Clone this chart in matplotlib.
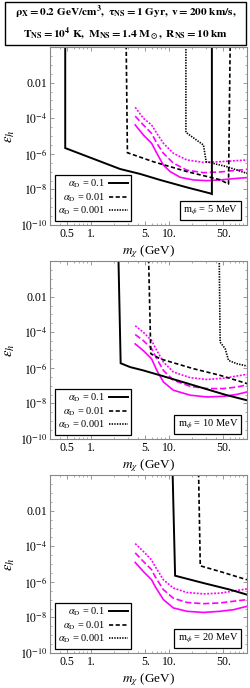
import matplotlib
matplotlib.use('Agg')
import matplotlib.pyplot as plt
import matplotlib.ticker as ticker
from matplotlib.patches import Rectangle
import numpy as np

plt.rcParams['font.family'] = ['Liberation Serif', 'DejaVu Serif']
plt.rcParams['mathtext.fontset'] = 'stix'
plt.rcParams['lines.scale_dashes'] = False

#%% data (m_chi in GeV, eps_h)
TOP = 3.0

# m_phi = 5 MeV
p5_a1_x = [0.47, 0.47, 2.37, 4.27, 7.7, 17, 33.7, 35.5, 35.5]
p5_a1_y = [TOP, 2.1e-6, 1.4e-7, 7.4e-8, 3.4e-8, 1.3e-8, 6.0e-9, 5.5e-9, TOP]
p5_a2_x = [2.83, 2.94, 6.3, 17, 33.7, 45, 58, 61]
p5_a2_y = [TOP, 1.15e-6, 3.6e-7, 1.0e-7, 4.8e-8, 3.5e-8, 2.0e-8, TOP]
p5_a3_x = [16.5, 16.5, 27.7, 30, 55, 100]
p5_a3_y = [TOP, 1.6e-5, 3.1e-6, 3.6e-7, 1.9e-7, 7.9e-8]
p5_m1_x = [3.7, 4.7, 6.0, 7.0, 8.5, 10.4, 13.9, 20.6, 30.6, 45, 67, 100]
p5_m1_y = [4.2e-5, 1.15e-5, 3.9e-6, 1.07e-6, 2.3e-7, 1.0e-7, 4.8e-8, 3.4e-8, 3.1e-8, 3.4e-8, 4.0e-8, 4.6e-8]
p5_m2_x = [3.7, 4.7, 6.0, 7.0, 8.5, 11.4, 17, 27.7, 45, 100]
p5_m2_y = [1.3e-4, 4.2e-5, 1.4e-5, 3.9e-6, 1.07e-6, 3.0e-7, 1.2e-7, 8.7e-8, 9.5e-8, 1.35e-7]
p5_m3_x = [3.7, 4.7, 6.0, 7.0, 8.5, 11.4, 17, 27.7, 45, 100]
p5_m3_y = [4.1e-4, 1.0e-4, 4.2e-5, 1.4e-5, 3.9e-6, 1.07e-6, 4.5e-7, 3.3e-7, 3.6e-7, 4.5e-7]

# m_phi = 10 MeV
p10_a1_x = [2.25, 2.41, 3.18, 4.71, 7.7, 12.6, 20.6, 33.7, 55, 100]
p10_a1_y = [TOP, 1.8e-6, 1.1e-6, 7.1e-7, 3.8e-7, 2.0e-7, 1.05e-7, 5.5e-8, 2.9e-8, 1.5e-8]
p10_a2_x = [5.47, 5.86, 7.7, 20.6, 45, 100]
p10_a2_y = [TOP, 6.2e-6, 3.2e-6, 8.9e-7, 3.8e-7, 1.3e-7]
p10_a3_x = [44, 45.3, 52.5, 58, 74, 100]
p10_a3_y = [TOP, 2.75e-5, 1.2e-5, 2.6e-6, 1.7e-6, 1.26e-6]
p10_m1_x = [3.7, 4.7, 6.0, 7.0, 8.5, 11.4, 18.7, 30.6, 50, 74, 100]
p10_m1_y = [2.2e-5, 9.3e-6, 3.2e-6, 7.1e-7, 1.6e-7, 5.5e-8, 2.9e-8, 2.3e-8, 2.5e-8, 3.2e-8, 4.4e-8]
p10_m2_x = [3.7, 4.7, 6.0, 7.0, 8.5, 11.4, 18.7, 30.6, 50, 74, 100]
p10_m2_y = [7.4e-5, 3.4e-5, 1.2e-5, 3.2e-6, 7.1e-7, 2.0e-7, 9.1e-8, 6.8e-8, 6.8e-8, 8.3e-8, 1.1e-7]
p10_m3_x = [3.7, 4.7, 6.0, 7.0, 8.5, 11.4, 18.7, 30.6, 50, 100]
p10_m3_y = [2.3e-4, 1.0e-4, 3.4e-5, 9.3e-6, 2.1e-6, 5.8e-7, 2.8e-7, 2.2e-7, 2.6e-7, 4.3e-7]

# m_phi = 20 MeV
p20_a1_x = [11.1, 12.0, 27.7, 61, 100]
p20_a1_y = [TOP, 2.2e-6, 8.5e-7, 3.6e-7, 1.9e-7]
p20_a2_x = [23.9, 25.2, 45, 100]
p20_a2_y = [TOP, 7.9e-6, 3.8e-6, 1.3e-6]
p20_m1_x = [3.7, 4.7, 6.0, 6.65, 8.5, 11.4, 17, 27.7, 45, 67, 100]
p20_m1_y = [1.23e-5, 3.8e-6, 1.3e-6, 5.5e-7, 1.0e-7, 3.4e-8, 2.2e-8, 1.9e-8, 2.2e-8, 2.7e-8, 4.2e-8]
p20_m2_x = [3.7, 4.7, 6.0, 6.65, 8.5, 11.4, 17, 27.7, 45, 100]
p20_m2_y = [4.2e-5, 1.4e-5, 4.8e-6, 2.0e-6, 3.6e-7, 1.2e-7, 6.9e-8, 5.9e-8, 6.5e-8, 1.0e-7]
p20_m3_x = [3.7, 4.7, 6.0, 6.65, 8.5, 11.4, 17, 27.7, 45, 100]
p20_m3_y = [1.4e-4, 5.1e-5, 1.7e-5, 7.4e-6, 1.3e-6, 4.5e-7, 2.5e-7, 2.1e-7, 2.3e-7, 4.0e-7]

x_ticks = [0.5, 1, 5, 10, 50]
x_tick_labels = ['0.5', '1.', '5.', '10.', '50.']
y_ticks = [1e-10, 1e-8, 1e-6, 1e-4, 1e-2]
y_tick_labels = [r'$10^{-10}$', r'$10^{-8}$', r'$10^{-6}$', r'$10^{-4}$', '0.01']
alpha_labels = [r'$\alpha_{\rm D}$ = 0.1', r'$\alpha_{\rm D}$ = 0.01', r'$\alpha_{\rm D}$ = 0.001']

panels = [
    ('5', [(p5_a1_x, p5_a1_y), (p5_a2_x, p5_a2_y), (p5_a3_x, p5_a3_y)],
     [(p5_m1_x, p5_m1_y), (p5_m2_x, p5_m2_y), (p5_m3_x, p5_m3_y)]),
    ('10', [(p10_a1_x, p10_a1_y), (p10_a2_x, p10_a2_y), (p10_a3_x, p10_a3_y)],
     [(p10_m1_x, p10_m1_y), (p10_m2_x, p10_m2_y), (p10_m3_x, p10_m3_y)]),
    ('20', [(p20_a1_x, p20_a1_y), (p20_a2_x, p20_a2_y)],
     [(p20_m1_x, p20_m1_y), (p20_m2_x, p20_m2_y), (p20_m3_x, p20_m3_y)]),
]

black_styles = [dict(lw=1.4), dict(lw=1.2, dashes=(3.0, 1.8)), dict(lw=1.2, dashes=(1.0, 0.9))]
mag_styles = [dict(lw=1.2), dict(lw=1.2, dashes=(4.5, 2.0)), dict(lw=1.2, dashes=(1.4, 1.1))]
MAG = '#ff00ff'
FRAME = '#888888'

W, H = 250, 688
fig = plt.figure(figsize=(W / 100, H / 100), dpi=100)

# header box
fig.patches.append(Rectangle((5 / W, 1 - 45 / H), 241 / W, 43 / H, transform=fig.transFigure,
                             fill=False, ec='black', lw=1.0))
fig.text(125.5 / W, 1 - 12.5 / H,
         r'$\mathbf{\rho_X = 0.2\ GeV/cm^3,\ \tau_{NS} = 1\ Gyr,\ v = 200\ km/s,}$',
         ha='center', va='center', fontsize=8.2)
fig.text(125.5 / W, 1 - 34.3 / H,
         r'$\mathbf{T_{NS} = 10^4\ K,\ M_{NS} = 1.4\ M_\odot,\ R_{NS} = 10\ km}$',
         ha='center', va='center', fontsize=8.2)

tops = [47, 261, 475]
for (mphi, black, mag), top in zip(panels, tops):
    ax = fig.add_axes([50 / W, 1 - (top + 178) / H, 197 / W, 178 / H])
    ax.set_xscale('log')
    ax.set_yscale('log')

    for (x, y), st in zip(mag, mag_styles):
        ax.plot(x, y, color=MAG, solid_joinstyle='round', **st)
    for (x, y), st in zip(black, black_styles):
        ax.plot(x, y, color='black', solid_joinstyle='miter', **st)

    ax.set_xlim(0.3, 100)
    ax.set_ylim(1e-10, 1)

    ax.xaxis.set_major_locator(ticker.FixedLocator(x_ticks))
    ax.xaxis.set_major_formatter(ticker.FixedFormatter(x_tick_labels))
    ax.xaxis.set_minor_locator(ticker.LogLocator(base=10, subs=np.arange(2, 10), numticks=20))
    ax.xaxis.set_minor_formatter(ticker.NullFormatter())
    ax.yaxis.set_major_locator(ticker.FixedLocator(y_ticks))
    ax.yaxis.set_major_formatter(ticker.FixedFormatter(y_tick_labels))
    ax.yaxis.set_minor_locator(ticker.LogLocator(base=10, subs=(1.0, 3.16), numticks=30))
    ax.yaxis.set_minor_formatter(ticker.NullFormatter())

    ax.tick_params(which='both', direction='in', top=True, right=True, color=FRAME, labelsize=8.5, pad=2)
    ax.tick_params(which='major', length=3, width=0.6)
    ax.tick_params(which='minor', length=1.5, width=0.5)
    for s in ax.spines.values():
        s.set_color(FRAME)
        s.set_linewidth(0.8)

    ax.set_xlabel(r'$m_\chi$ (GeV)', fontsize=9.5)
    ax.xaxis.set_label_coords(0.5, -0.1)
    ax.set_ylabel(r'$\epsilon_h$', fontsize=10.5)
    ax.yaxis.set_label_coords(-0.17, 0.5)

    handles = [plt.Line2D([], [], color='black', **st) for st in black_styles]
    leg = ax.legend(handles, alpha_labels, loc='lower left', bbox_to_anchor=(0.025, 0.025),
                    markerfirst=False, fontsize=7.5, frameon=True, fancybox=False, framealpha=1,
                    edgecolor='black', handlelength=1.8, handletextpad=0.4, borderpad=0.3,
                    labelspacing=0.1, borderaxespad=0.0)
    leg.get_frame().set_linewidth(0.9)

    ax.text(0.955, 0.045, r'm$_\phi$ = ' + mphi + ' MeV', transform=ax.transAxes,
            ha='right', va='bottom', fontsize=7.5,
            bbox=dict(boxstyle='square,pad=0.3', fc='white', ec='black', lw=0.9))

fig.savefig('out.png', dpi=100)
